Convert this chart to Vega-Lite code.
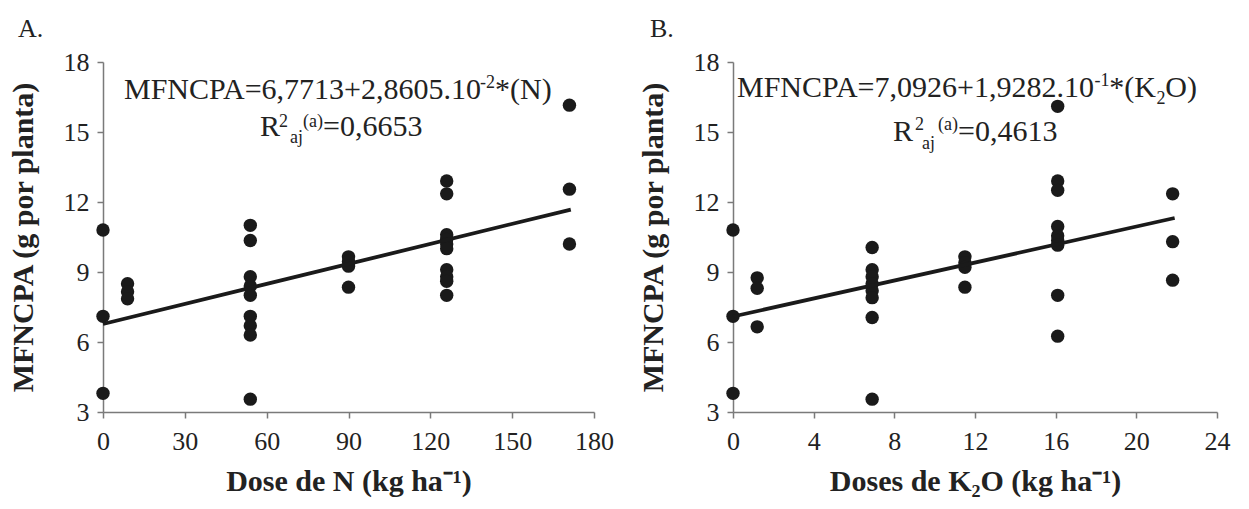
{
  "$schema": "https://vega.github.io/schema/vega-lite/v6.json",
  "background": "white",
  "padding": {"left": 8, "top": 16, "right": 5, "bottom": 5},
  "bounds": "flush",
  "spacing": 139,
  "config": {
    "view": {"stroke": null},
    "font": "Liberation Serif",
    "axis": {
      "grid": false,
      "domainColor": "#7a7a7a",
      "tickColor": "#7a7a7a",
      "domainWidth": 1.5,
      "tickWidth": 1.5,
      "tickSize": 6,
      "labelFont": "Liberation Serif",
      "labelFontSize": 26,
      "labelColor": "#222222",
      "labelFlush": false,
      "labelOverlap": false,
      "titleFont": "Liberation Serif",
      "titleFontSize": 30,
      "titleFontWeight": "bold",
      "titleColor": "#222222"
    }
  },
  "datasets": {
    "ptsA": [
      {"dose": 0, "mf": 10.8}, {"dose": 0, "mf": 7.1}, {"dose": 0, "mf": 3.8},
      {"dose": 9, "mf": 8.5}, {"dose": 9, "mf": 8.15}, {"dose": 9, "mf": 7.85},
      {"dose": 54, "mf": 11.0}, {"dose": 54, "mf": 10.35}, {"dose": 54, "mf": 8.8}, {"dose": 54, "mf": 8.4}, {"dose": 54, "mf": 8.0}, {"dose": 54, "mf": 7.1}, {"dose": 54, "mf": 6.7}, {"dose": 54, "mf": 6.3}, {"dose": 54, "mf": 3.55},
      {"dose": 90, "mf": 9.65}, {"dose": 90, "mf": 9.45}, {"dose": 90, "mf": 9.25}, {"dose": 90, "mf": 8.35},
      {"dose": 126, "mf": 12.9}, {"dose": 126, "mf": 12.35}, {"dose": 126, "mf": 10.6}, {"dose": 126, "mf": 10.4}, {"dose": 126, "mf": 10.2}, {"dose": 126, "mf": 10.0}, {"dose": 126, "mf": 9.1}, {"dose": 126, "mf": 8.8}, {"dose": 126, "mf": 8.6}, {"dose": 126, "mf": 8.0},
      {"dose": 171, "mf": 16.15}, {"dose": 171, "mf": 12.55}, {"dose": 171, "mf": 10.2}
    ],
    "fitA": [{"dose": 0, "mf": 6.7713}, {"dose": 171.5, "mf": 11.677}],
    "bigA": [
      {"dose": 7.7, "mf": 16.414, "t": "MFNCPA=6,7713+2,8605.10"},
      {"dose": 143.7, "mf": 16.414, "t": "*(N)"},
      {"dose": 57.56, "mf": 14.829, "t": "R"},
      {"dose": 80.65, "mf": 14.829, "t": "=0,6653"}
    ],
    "smallA": [
      {"dose": 138.2, "mf": 16.886, "t": "-2"},
      {"dose": 64.52, "mf": 15.214, "t": "2"},
      {"dose": 68.55, "mf": 14.529, "t": "aj"},
      {"dose": 73.32, "mf": 15.214, "t": "(a)"}
    ],
    "ptsB": [
      {"dose": 0, "mf": 10.8}, {"dose": 0, "mf": 7.1}, {"dose": 0, "mf": 3.8},
      {"dose": 1.2, "mf": 8.75}, {"dose": 1.2, "mf": 8.3}, {"dose": 1.2, "mf": 6.65},
      {"dose": 6.9, "mf": 10.05}, {"dose": 6.9, "mf": 9.1}, {"dose": 6.9, "mf": 8.8}, {"dose": 6.9, "mf": 8.5}, {"dose": 6.9, "mf": 8.2}, {"dose": 6.9, "mf": 7.9}, {"dose": 6.9, "mf": 7.05}, {"dose": 6.9, "mf": 3.55},
      {"dose": 11.5, "mf": 9.65}, {"dose": 11.5, "mf": 9.4}, {"dose": 11.5, "mf": 9.2}, {"dose": 11.5, "mf": 8.35},
      {"dose": 16.1, "mf": 16.1}, {"dose": 16.1, "mf": 12.9}, {"dose": 16.1, "mf": 12.5}, {"dose": 16.1, "mf": 10.95}, {"dose": 16.1, "mf": 10.55}, {"dose": 16.1, "mf": 10.35}, {"dose": 16.1, "mf": 10.15}, {"dose": 16.1, "mf": 8.0}, {"dose": 16.1, "mf": 6.25},
      {"dose": 21.8, "mf": 12.35}, {"dose": 21.8, "mf": 10.3}, {"dose": 21.8, "mf": 8.65}
    ],
    "fitB": [{"dose": 0, "mf": 7.0926}, {"dose": 21.9, "mf": 11.315}],
    "bigB": [
      {"dose": 0.198, "mf": 16.5, "t": "MFNCPA=7,0926+1,9282.10"},
      {"dose": 18.66, "mf": 16.5, "t": "*(K"},
      {"dose": 21.44, "mf": 16.5, "t": "O)"},
      {"dose": 7.934, "mf": 14.614, "t": "R"},
      {"dose": 11.157, "mf": 14.614, "t": "=0,4613"}
    ],
    "smallB": [
      {"dose": 17.92, "mf": 16.971, "t": "-1"},
      {"dose": 21.0, "mf": 16.2, "t": "2"},
      {"dose": 9.025, "mf": 15.086, "t": "2"},
      {"dose": 9.372, "mf": 14.271, "t": "aj"},
      {"dose": 10.165, "mf": 15.086, "t": "(a)"}
    ]
  },
  "hconcat": [
    {
      "width": 491,
      "height": 350,
      "title": {"text": "A.", "anchor": "start", "frame": "group", "dx": -85, "offset": 7, "fontSize": 26, "fontWeight": "normal", "font": "Liberation Serif", "color": "#222222"},
      "layer": [
        {
          "data": {"name": "ptsA"},
          "mark": {"type": "circle", "size": 180, "color": "#1a1a1a", "opacity": 1},
          "encoding": {
            "x": {"field": "dose", "type": "quantitative", "scale": {"domain": [0, 180], "nice": false, "zero": false},
                  "axis": {"values": [0, 30, 60, 90, 120, 150, 180], "title": "Dose de N (kg ha⁻¹)", "labelPadding": 10, "titlePadding": 12}},
            "y": {"field": "mf", "type": "quantitative", "scale": {"domain": [3, 18], "nice": false, "zero": false},
                  "axis": {"values": [3, 6, 9, 12, 15, 18], "title": "MFNCPA (g por planta)", "labelPadding": 8, "titlePadding": 25}}
          }
        },
        {
          "data": {"name": "fitA"},
          "mark": {"type": "line", "color": "#1a1a1a", "strokeWidth": 3.8},
          "encoding": {"x": {"field": "dose", "type": "quantitative"}, "y": {"field": "mf", "type": "quantitative"}}
        },
        {
          "data": {"name": "bigA"},
          "mark": {"type": "text", "align": "left", "baseline": "alphabetic", "fontSize": 30, "font": "Liberation Serif", "color": "#222222"},
          "encoding": {"x": {"field": "dose", "type": "quantitative"}, "y": {"field": "mf", "type": "quantitative"}, "text": {"field": "t"}}
        },
        {
          "data": {"name": "smallA"},
          "mark": {"type": "text", "align": "left", "baseline": "alphabetic", "fontSize": 18, "font": "Liberation Serif", "color": "#222222"},
          "encoding": {"x": {"field": "dose", "type": "quantitative"}, "y": {"field": "mf", "type": "quantitative"}, "text": {"field": "t"}}
        }
      ]
    },
    {
      "width": 484,
      "height": 350,
      "title": {"text": "B.", "anchor": "start", "frame": "group", "dx": -83, "offset": 7, "fontSize": 26, "fontWeight": "normal", "font": "Liberation Serif", "color": "#222222"},
      "layer": [
        {
          "data": {"name": "ptsB"},
          "mark": {"type": "circle", "size": 180, "color": "#1a1a1a", "opacity": 1},
          "encoding": {
            "x": {"field": "dose", "type": "quantitative", "scale": {"domain": [0, 24], "nice": false, "zero": false},
                  "axis": {"values": [0, 4, 8, 12, 16, 20, 24], "title": "Doses de K₂O (kg ha⁻¹)", "labelPadding": 10, "titlePadding": 12}},
            "y": {"field": "mf", "type": "quantitative", "scale": {"domain": [3, 18], "nice": false, "zero": false},
                  "axis": {"values": [3, 6, 9, 12, 15, 18], "title": "MFNCPA (g por planta)", "labelPadding": 8, "titlePadding": 25}}
          }
        },
        {
          "data": {"name": "fitB"},
          "mark": {"type": "line", "color": "#1a1a1a", "strokeWidth": 3.8},
          "encoding": {"x": {"field": "dose", "type": "quantitative"}, "y": {"field": "mf", "type": "quantitative"}}
        },
        {
          "data": {"name": "bigB"},
          "mark": {"type": "text", "align": "left", "baseline": "alphabetic", "fontSize": 30, "font": "Liberation Serif", "color": "#222222"},
          "encoding": {"x": {"field": "dose", "type": "quantitative"}, "y": {"field": "mf", "type": "quantitative"}, "text": {"field": "t"}}
        },
        {
          "data": {"name": "smallB"},
          "mark": {"type": "text", "align": "left", "baseline": "alphabetic", "fontSize": 18, "font": "Liberation Serif", "color": "#222222"},
          "encoding": {"x": {"field": "dose", "type": "quantitative"}, "y": {"field": "mf", "type": "quantitative"}, "text": {"field": "t"}}
        }
      ]
    }
  ]
}
